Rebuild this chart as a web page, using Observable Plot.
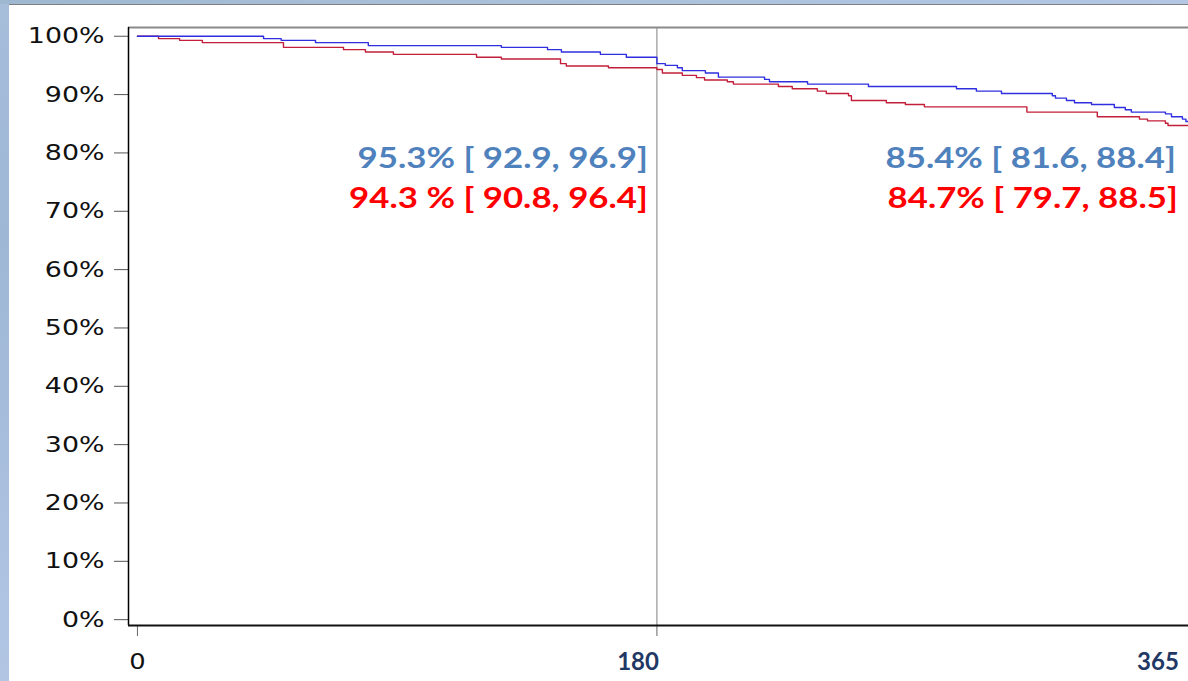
<!DOCTYPE html>
<html>
<head>
<meta charset="utf-8">
<script src="https://cdn.jsdelivr.net/npm/d3@7"></script>
<script src="https://cdn.jsdelivr.net/npm/@observablehq/plot@0.6"></script>
<style>
  html, body { margin: 0; padding: 0; background: #ffffff; }
  #stage { position: relative; width: 1188px; height: 681px; overflow: hidden; background: #ffffff; }
  #leftband { position: absolute; left: 0; top: 0; width: 9px; height: 681px;
    background: linear-gradient(180deg, #a7bedb 0%, #9db7d4 35%, #b2c6e4 100%); }
  #topband { position: absolute; left: 0; top: 0; width: 1188px; height: 4px;
    background: linear-gradient(90deg, #9fb8d2 0%, #a9c0da 40%, #b3c7e4 100%); }
  #topedge { position: absolute; left: 9px; top: 4px; width: 1179px; height: 1px; background: #7f7f7f; }
  #chart { position: absolute; left: 0; top: 0; }
</style>
</head>
<body>
<div id="stage">
  <div id="leftband"></div>
  <div id="topband"></div>
  <div id="topedge"></div>
  <div id="chart"></div>
</div>
<script>
// Kaplan–Meier survival estimates (days, % surviving) for the two groups
const blueDays = [0, 43.7, 49.8, 61.7, 80.0, 126.1, 142.1, 146.9, 160.4, 169.4, 180, 182.9, 187.1, 188.8, 196.8, 201.3, 217.3, 219.0, 232.2, 253.3, 283.8, 290.7, 299.4, 317.0, 318.1, 321.9, 324.7, 330.6, 338.5, 342.3, 344.4, 356.2, 358.3, 362.1, 363.3, 365];
const blueSurv = [100, 99.6, 99.3, 98.9, 98.4, 98.1, 97.7, 97.3, 96.9, 96.4, 95.3, 95.0, 94.6, 94.1, 93.7, 93.0, 92.6, 92.2, 91.8, 91.4, 91.0, 90.6, 90.2, 89.8, 89.4, 89.0, 88.6, 88.3, 87.8, 87.4, 87.0, 86.7, 86.2, 85.8, 85.4, 85.4];

const redDays = [0, 7.3, 14.6, 22.5, 50.6, 71.4, 79.0, 88.7, 117.5, 126.1, 146.6, 148.6, 163.2, 180, 181.9, 188.8, 193.7, 196.5, 204.4, 206.5, 222.1, 226.9, 235.6, 238.7, 246.4, 247.4, 259.5, 266.1, 272.7, 308.2, 332.6, 347.2, 350.0, 356.2, 357.1, 365];
const redSurv = [100, 99.6, 99.3, 98.9, 98.1, 97.7, 97.3, 96.9, 96.4, 96.1, 95.3, 94.9, 94.6, 94.3, 93.7, 93.3, 92.9, 92.5, 92.2, 91.8, 91.4, 91.0, 90.6, 90.2, 89.8, 89.0, 88.6, 88.3, 87.9, 87.0, 86.2, 85.8, 85.5, 85.1, 84.7, 84.7];

// Estimates with confidence intervals at 180 and 365 days
const annDays  = [180, 180, 365, 365];
const annGroup = ["blue", "red", "blue", "red"];
const annEst   = [95.3, 94.3, 85.4, 84.7];
const annLo    = [92.9, 90.8, 81.6, 79.7];
const annHi    = [96.9, 96.4, 88.4, 88.5];

const yTicks = [0, 10, 20, 30, 40, 50, 60, 70, 80, 90, 100];
const xTicks = [0, 180, 365];
const xTickLabels = ["0", "180", "365"];

const xDomain = [-3.1, 364.2];
const yDomain = [-1, 101.5];

const BLUE_LINE = "#2f2fe0";
const RED_LINE = "#c41f3a";
const BLUE_TEXT = "#4f81bd";
const RED_TEXT = "#ff0000";

const series = (days, surv) => days.map((d, i) => ({day: d, surv: surv[i]}));
const blue = series(blueDays, blueSurv);
const red = series(redDays, redSurv);

const ann = annDays.map((d, i) => ({
  day: d, group: annGroup[i],
  text: (annGroup[i] === "red" && d === 180)
    ? `${annEst[i].toFixed(1)} % [ ${annLo[i].toFixed(1)}, ${annHi[i].toFixed(1)}]`
    : `${annEst[i].toFixed(1)}% [ ${annLo[i].toFixed(1)}, ${annHi[i].toFixed(1)}]`
}));
const annAt = (day, group) => ann.filter(a => a.day === day && a.group === group);

const xLabels = xTicks.map((t, i) => ({day: t, label: xTickLabels[i]}));

const annStyle = {fontFamily: "Lato", fontWeight: "bold", fontSize: 29, textAnchor: "end", frameAnchor: "top", lineAnchor: "middle"};

const plot = Plot.plot({
  width: 1188,
  height: 681,
  marginLeft: 128,
  marginRight: 0,
  marginTop: 27,
  marginBottom: 56,
  style: {background: "transparent", fontFamily: "DejaVu Sans", fontSize: "22px", color: "#111"},
  x: {domain: xDomain, axis: null},
  y: {domain: yDomain, axis: null},
  marks: [
    // vertical reference at 180 days
    Plot.ruleX([180], {stroke: "#808080", strokeWidth: 1}),
    // top border
    Plot.ruleY([yDomain[1]], {stroke: "#8a8a8a", strokeWidth: 2}),
    // y axis
    Plot.axisY(yTicks, {
      label: null, tickSize: 14, tickPadding: 10, stroke: "#555",
      tickFormat: d => `${d}%`,
      fontFamily: "DejaVu Sans", fontSize: 22, fill: "#111"
    }),
    // x axis ticks
    Plot.axisX(xTicks, {label: null, tickSize: 11, stroke: "#666", tickFormat: () => ""}),
    // x tick labels
    Plot.text(xLabels.filter(d => d.day === 0), {
      x: "day", text: "label", frameAnchor: "bottom", dy: 36, lineAnchor: "middle",
      fontFamily: "DejaVu Sans", fontSize: 22, fill: "#111"
    }),
    Plot.text(xLabels.filter(d => d.day === 180), {
      x: "day", text: "label", frameAnchor: "bottom", dy: 37, lineAnchor: "middle",
      textAnchor: "end", dx: 2, fontFamily: "Lato", fontWeight: "bold", fontSize: 24, fill: "#1f3864"
    }),
    Plot.text(xLabels.filter(d => d.day === 365), {
      x: "day", text: "label", frameAnchor: "bottom", dy: 37, lineAnchor: "middle",
      textAnchor: "end", dx: -12, fontFamily: "Lato", fontWeight: "bold", fontSize: 24, fill: "#1f3864"
    }),
    // axis lines
    Plot.ruleX([xDomain[0]], {stroke: "#000", strokeWidth: 1.5}),
    Plot.ruleY([yDomain[0]], {stroke: "#111", strokeWidth: 2}),
    // survival curves
    Plot.line(red, {x: "day", y: "surv", curve: "step-after", stroke: RED_LINE, strokeWidth: 1.4}),
    Plot.line(blue, {x: "day", y: "surv", curve: "step-after", stroke: BLUE_LINE, strokeWidth: 1.4}),
    // estimates at 180 and 365 days
    Plot.text(annAt(180, "blue"), {...annStyle, x: "day", text: "text", dx: -9, dy: 131, fill: BLUE_TEXT}),
    Plot.text(annAt(180, "red"), {...annStyle, x: "day", text: "text", dx: -9, dy: 171, fill: RED_TEXT}),
    Plot.text(annAt(365, "blue"), {...annStyle, x: "day", text: "text", dx: -15, dy: 131, fill: BLUE_TEXT}),
    Plot.text(annAt(365, "red"), {...annStyle, x: "day", text: "text", dx: -13, dy: 171, fill: RED_TEXT})
  ]
});

document.getElementById("chart").appendChild(plot);

// widen glyphs horizontally to the chart's stretched lettering
function stretchText(test, k) {
  plot.querySelectorAll("text").forEach(t => {
    if (!test(t.textContent)) return;
    const w = t.getComputedTextLength();
    if (w > 0) {
      t.setAttribute("textLength", (w * k).toFixed(1));
      t.setAttribute("lengthAdjust", "spacingAndGlyphs");
    }
  });
}
stretchText(s => s.endsWith("%"), 1.22);
stretchText(s => s === "0", 1.17);
stretchText(s => s.includes("["), 1.2);
</script>
</body>
</html>
